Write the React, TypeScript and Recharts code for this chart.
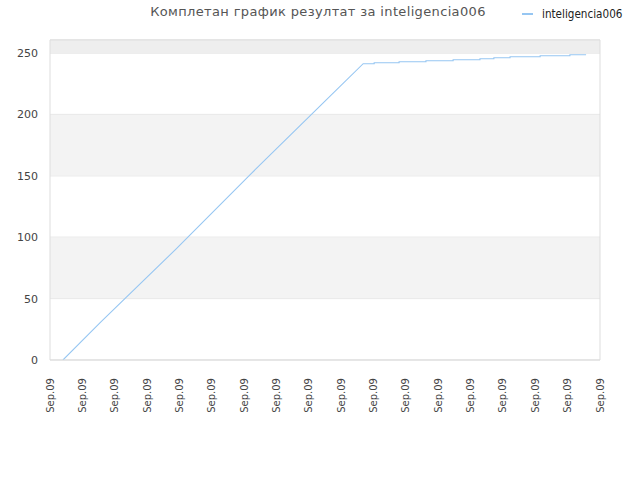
import React from 'react';
import { LineChart, Line, XAxis, YAxis, CartesianGrid, ReferenceArea, ReferenceLine } from 'recharts';

const seriesName = 'inteligencia006';
const titleText = 'Комплетан график резултат за inteligencia006';

// x position in tick units (17 tick intervals, each labelled "Sep.09")
const times = [0.40, 1.55, 3.90, 6.18, 8.50, 9.68, 10.02, 10.02, 10.79, 10.79, 11.62, 11.62, 12.46, 12.46, 13.29, 13.29, 13.72, 13.72, 14.22, 14.22, 15.15, 15.15, 16.07, 16.07, 16.57];
const scores = [0, 30.5, 90.5, 150.8, 210.9, 241.3, 241.3, 242.1, 242.1, 242.9, 242.9, 243.7, 243.7, 244.5, 244.5, 245.3, 245.3, 246.2, 246.2, 247.0, 247.0, 247.8, 247.8, 248.6, 248.6];
const xTicks = [0, 1, 2, 3, 4, 5, 6, 7, 8, 9, 10, 11, 12, 13, 14, 15, 16, 17];
const xTickLabel = 'Sep.09';
const yTicks = [0, 50, 100, 150, 200, 250];
const yMax = 260.6;

const data = times.map((t, i) => ({ t, v: scores[i] }));

const LINE_COLOR = '#96c6f2';

const XTick = (props: any) => {
  const { x, y } = props;
  return (
    <text
      x={x}
      y={y}
      transform={`rotate(-90, ${x}, ${y})`}
      textAnchor="end"
      dominantBaseline="central"
      fontSize={10}
      fill="#444"
      fontFamily='"DejaVu Sans", sans-serif'
    >
      {xTickLabel}
    </text>
  );
};

export default function App() {
  return (
    <div style={{ position: 'absolute', left: 0, top: 0, width: 640, height: 480, background: '#fff' }}>
      <div style={{ position: 'absolute', left: 0, top: 4, width: 636, textAlign: 'center', fontFamily: '"DejaVu Sans", sans-serif', fontSize: 13, color: '#555', letterSpacing: 0.35 }}>
        {titleText}
      </div>
      <div style={{ position: 'absolute', left: 522, top: 7, display: 'flex', alignItems: 'center', fontFamily: '"DejaVu Sans Condensed", "DejaVu Sans", sans-serif', fontSize: 11.6, color: '#222', whiteSpace: 'nowrap' }}>
        <span style={{ display: 'inline-block', width: 11, height: 2, background: LINE_COLOR, marginRight: 9 }} />
        <span>{seriesName}</span>
      </div>
      <LineChart width={640} height={480} data={data} margin={{ top: 40, right: 40, left: 0, bottom: 0 }}>
        <ReferenceArea y1={50} y2={100} fill="#f3f3f3" fillOpacity={1} stroke="none" ifOverflow="hidden" />
        <ReferenceArea y1={150} y2={200} fill="#f3f3f3" fillOpacity={1} stroke="none" ifOverflow="hidden" />
        <ReferenceArea y1={250} y2={yMax} fill="#eeeeee" fillOpacity={1} stroke="none" ifOverflow="hidden" />
        <CartesianGrid vertical={false} stroke="#dddddd" />
        <ReferenceLine y={yMax} stroke="#dddddd" />
        <ReferenceLine x={17} stroke="#dddddd" />
        <XAxis
          type="number"
          dataKey="t"
          domain={[0, 17]}
          ticks={xTicks}
          interval={0}
          height={120}
          tickLine={false}
          axisLine={{ stroke: '#dddddd' }}
          tick={<XTick />}
          tickMargin={12}
        />
        <YAxis
          type="number"
          domain={[0, yMax]}
          ticks={yTicks}
          width={50}
          tickLine={false}
          axisLine={{ stroke: '#dddddd' }}
          tick={{ fontSize: 11, fill: '#444', fontFamily: '"DejaVu Sans", sans-serif' }}
          tickMargin={6}
          allowDataOverflow
        />
        <Line type="linear" dataKey="v" stroke={LINE_COLOR} strokeWidth={1.1} dot={false} activeDot={false} isAnimationActive={false} />
      </LineChart>
    </div>
  );
}
